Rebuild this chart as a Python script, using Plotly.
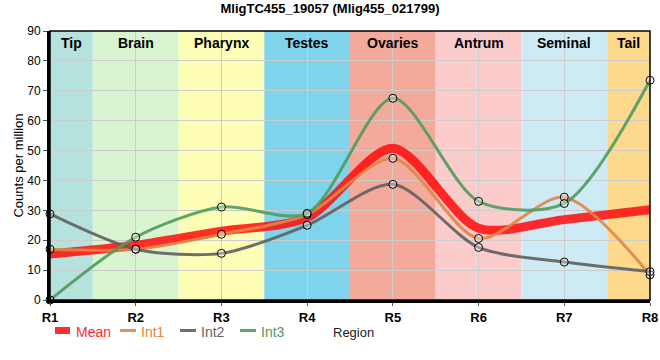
import plotly.graph_objects as go

regions = ["R1", "R2", "R3", "R4", "R5", "R6", "R7", "R8"]
xpos = [1, 2, 3, 4, 5, 6, 7, 8]
mean_vals = [15.4, 18.3, 23.0, 27.6, 50.8, 24.0, 26.9, 30.2]
int1_vals = [17.0, 17.0, 22.0, 28.6, 47.4, 20.6, 34.4, 8.4]
int2_vals = [28.8, 17.0, 15.6, 25.0, 38.7, 17.6, 12.7, 9.5]
int3_vals = [0.0, 21.0, 31.1, 29.0, 67.5, 33.0, 32.3, 73.5]

band_names = ["Tip", "Brain", "Pharynx", "Testes", "Ovaries", "Antrum", "Seminal", "Tail"]
band_starts = [1.0, 1.5, 2.5, 3.5, 4.5, 5.5, 6.5, 7.5]
band_ends = [1.5, 2.5, 3.5, 4.5, 5.5, 6.5, 7.5, 8.0]
band_colors = ["#b5e2dd", "#d8f5d0", "#fdfdb6", "#7fd3eb", "#f4aa9b",
               "#fccbcb", "#ceeaf4", "#fcd98d"]

title_text = "<b>MligTC455_19057 (Mlig455_021799)</b>"
FONT = "Arial, Liberation Sans, sans-serif"

c_mean = "rgba(255,10,10,0.85)"
c_int1 = "rgba(222,135,70,0.9)"
c_int2 = "rgba(95,95,95,0.9)"
c_int3 = "rgba(80,155,95,0.9)"

fig = go.Figure()

marker = dict(symbol="circle", size=8, color="rgba(255,255,255,0.35)",
              line=dict(color="black", width=1))
SM = 0.8

fig.add_trace(go.Scatter(x=xpos, y=mean_vals, mode="lines", name="Mean",
                         line=dict(color=c_mean, width=9, shape="spline", smoothing=SM)))
fig.add_trace(go.Scatter(x=xpos, y=int1_vals, mode="lines+markers", name="Int1",
                         line=dict(color=c_int1, width=3, shape="spline", smoothing=SM),
                         marker=marker, cliponaxis=False))
fig.add_trace(go.Scatter(x=xpos, y=int2_vals, mode="lines+markers", name="Int2",
                         line=dict(color=c_int2, width=3, shape="spline", smoothing=SM),
                         marker=marker, cliponaxis=False))
fig.add_trace(go.Scatter(x=xpos, y=int3_vals, mode="lines+markers", name="Int3",
                         line=dict(color=c_int3, width=3, shape="spline", smoothing=SM),
                         marker=marker, cliponaxis=False))

shapes = []
annotations = []
for name, s, e, col in zip(band_names, band_starts, band_ends, band_colors):
    shapes.append(dict(type="rect", xref="x", yref="paper", x0=s, x1=e, y0=0, y1=1,
                       fillcolor=col, line=dict(width=0), layer="below"))
    annotations.append(dict(x=(s + e) / 2, y=1, xref="x", yref="paper", text="<b>" + name + "</b>",
                            showarrow=False, yanchor="top", yshift=-2,
                            font=dict(family=FONT, size=14, color="black")))

# frame (top/right)
shapes.append(dict(type="rect", xref="paper", yref="paper", x0=0, x1=1, y0=0, y1=1,
                   line=dict(color="black", width=1.5), layer="above"))

# manual legend
W = 600.0
H = 269.0
def px(x):
    return (x - 50) / W
def py(y):
    return (300 - y) / H

leg = [("Mean", c_mean, 55, 70, 74, "rect", "rgb(255,40,40)"),
       ("Int1", c_int1, 120, 136, 139, "line", "rgb(222,135,70)"),
       ("Int2", c_int2, 180, 196, 199, "line", "rgb(100,100,100)"),
       ("Int3", c_int3, 240, 256, 259, "line", "rgb(80,155,95)")]
for name, col, x0, x1, tx, kind, tcol in leg:
    if kind == "rect":
        shapes.append(dict(type="rect", xref="paper", yref="paper", x0=px(x0), x1=px(x1),
                           y0=py(334), y1=py(327), fillcolor=col, line=dict(width=0)))
    else:
        shapes.append(dict(type="line", xref="paper", yref="paper", x0=px(x0), x1=px(x1),
                           y0=py(330.5), y1=py(330.5), line=dict(color=col, width=3)))
    annotations.append(dict(x=px(tx), y=py(331.5), xref="paper", yref="paper", text=name,
                            showarrow=False, xanchor="left", yanchor="middle",
                            font=dict(family=FONT, size=14, color=tcol)))

annotations.append(dict(x=px(331), y=py(332), xref="paper", yref="paper", text="Region",
                        showarrow=False, xanchor="left", yanchor="middle",
                        font=dict(family=FONT, size=13, color="#222")))

fig.update_layout(
    width=660, height=360,
    margin=dict(l=50, r=10, t=31, b=60),
    paper_bgcolor="white", plot_bgcolor="white",
    showlegend=False,
    title=dict(text=title_text, x=0.5, xanchor="center", y=1 - 8.5 / 360, yanchor="middle",
               yref="container", font=dict(family=FONT, size=13, color="black"),
               automargin=False),
    font=dict(family=FONT, size=12, color="black"),
    shapes=shapes,
    annotations=annotations,
    xaxis=dict(range=[1, 8], tickvals=xpos, ticktext=["<b>" + r + "</b>" for r in regions],
               showgrid=True, gridcolor="#cccccc", gridwidth=1,
               showline=True, linecolor="black", linewidth=3,
               ticks="outside", ticklen=3, tickcolor="#555",
               tickfont=dict(family=FONT, size=13, color="black"), zeroline=False,
               automargin=False, fixedrange=True),
    yaxis=dict(range=[0, 90], dtick=10, showgrid=True, gridcolor="#cccccc", gridwidth=1,
               showline=True, linecolor="black", linewidth=3,
               ticks="outside", ticklen=4, tickcolor="#555",
               tickfont=dict(family=FONT, size=12, color="black"), zeroline=False,
               title=dict(text="Counts per million", font=dict(family=FONT, size=13, color="black"),
                          standoff=1),
               automargin=False, fixedrange=True),
)

fig.write_html("out.html", config={"displayModeBar": False},
               post_script="document.body.style.margin='0';")
